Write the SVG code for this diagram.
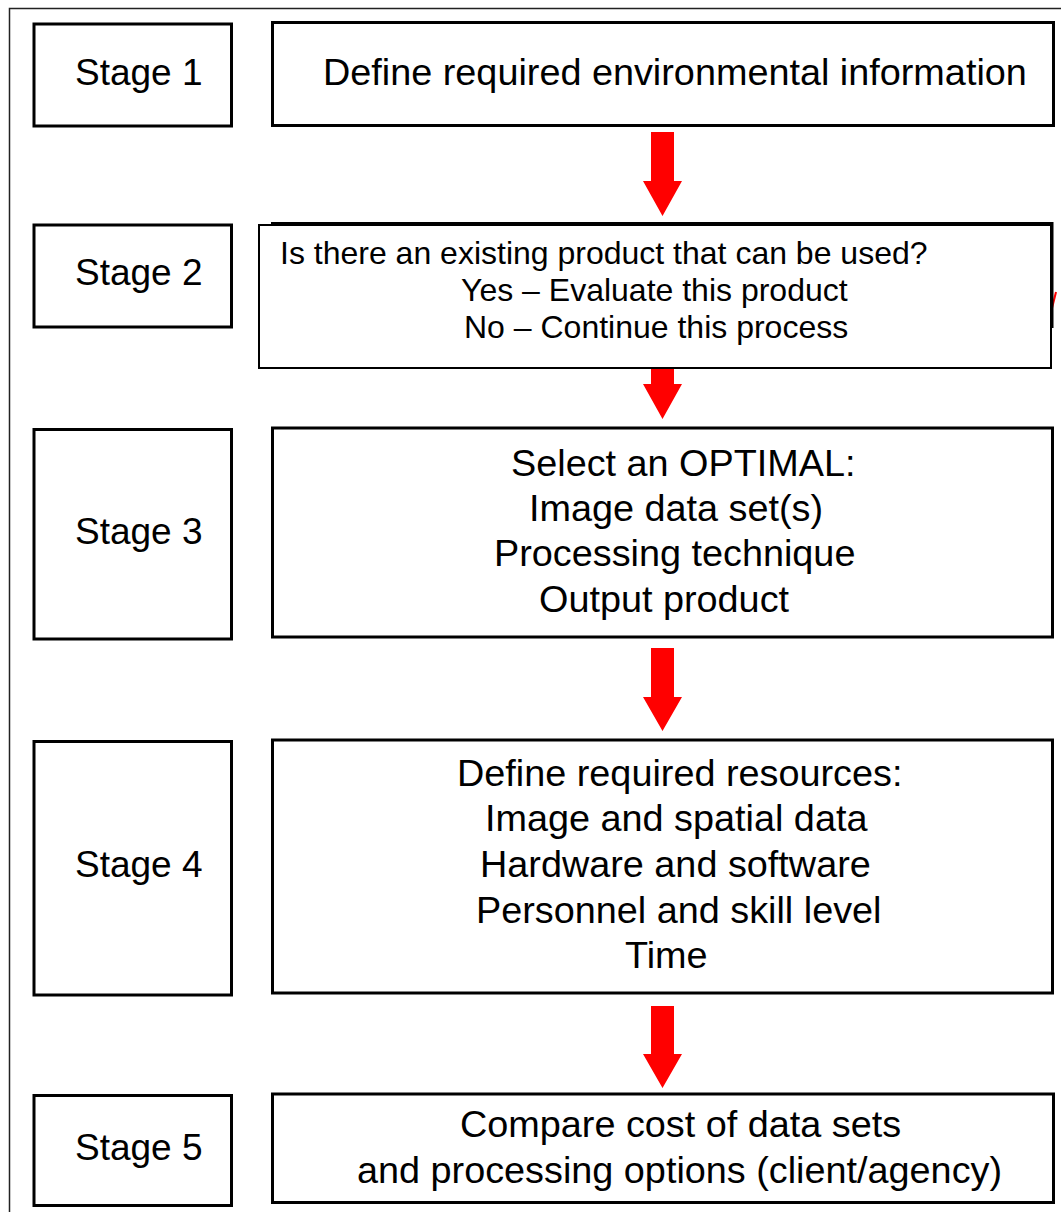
<svg xmlns="http://www.w3.org/2000/svg" width="1061" height="1212" viewBox="0 0 1061 1212">
<style>
.bx{fill:#fff;stroke:#000;stroke-width:3}
.thin{fill:#fff;stroke:#000;stroke-width:2}
.st{font-family:"Liberation Sans",Arial,sans-serif;font-size:37px;fill:#000}
.t{font-family:"Liberation Sans",Arial,sans-serif;font-size:37.8px;fill:#000}
.s{font-family:"Liberation Sans",Arial,sans-serif;font-size:32px;fill:#000}
.arr{fill:#ff0000;stroke:none}
</style>
<rect x="0" y="0" width="1061" height="1212" fill="#fff"/>
<rect id="frame" x="9.5" y="8.5" width="1200" height="1300" fill="none" stroke="#222" stroke-width="1.5"/>
<g id="connectors">
<polygon class="arr" points="651,132 674,132 674,181 682,181 662.5,216 643,181 651,181"/>
<polygon class="arr" points="651,335 674,335 674,384 682,384 662.5,419 643,384 651,384"/>
<polygon class="arr" points="651,648 674,648 674,697 682,697 662.5,731 643,697 651,697"/>
<polygon class="arr" points="651,1006 674,1006 674,1054 682,1054 662.5,1088 643,1054 651,1054"/>
<path d="M1056,292 L1052,308" stroke="#ff0000" stroke-width="2" fill="none"/>
</g>
<g id="stage1">
<rect class="bx" x="34" y="24" width="197.5" height="102"/>
<text class="st" x="75" y="85">Stage 1</text>
</g>
<g id="step1">
<rect class="bx" x="272.5" y="22.5" width="781" height="103"/>
<text class="t" x="323" y="85">Define required environmental information</text>
</g>
<g id="stage2">
<rect class="bx" x="34" y="225" width="197.5" height="102"/>
<text class="st" x="75" y="285">Stage 2</text>
</g>
<g id="step2">
<rect class="bx" x="272.5" y="223.5" width="779.5" height="103"/>
<rect class="thin" x="259" y="225" width="792" height="143"/>
<text class="s" x="280" y="264">Is there an existing product that can be used?</text>
<text class="s" x="461" y="301">Yes – Evaluate this product</text>
<text class="s" x="464" y="338">No – Continue this process</text>
</g>
<g id="stage3">
<rect class="bx" x="34" y="429.5" width="197.5" height="209.5"/>
<text class="st" x="75" y="544">Stage 3</text>
</g>
<g id="step3">
<rect class="bx" x="272.5" y="428" width="780" height="209"/>
<text class="t" x="511" y="476">Select an OPTIMAL:</text>
<text class="t" x="529" y="521">Image data set(s)</text>
<text class="t" x="494" y="566">Processing technique</text>
<text class="t" x="539" y="612">Output product</text>
</g>
<g id="stage4">
<rect class="bx" x="34" y="741.5" width="197.5" height="253.5"/>
<text class="st" x="75" y="877">Stage 4</text>
</g>
<g id="step4">
<rect class="bx" x="272.5" y="740" width="780" height="253"/>
<text class="t" x="457" y="786">Define required resources:</text>
<text class="t" x="485" y="831">Image and spatial data</text>
<text class="t" x="480" y="877">Hardware and software</text>
<text class="t" x="476" y="923">Personnel and skill level</text>
<text class="t" x="625" y="968">Time</text>
</g>
<g id="stage5">
<rect class="bx" x="34" y="1095.5" width="197.5" height="110"/>
<text class="st" x="75" y="1160">Stage 5</text>
</g>
<g id="step5">
<rect class="bx" x="272.5" y="1094" width="781" height="108.5"/>
<text class="t" x="460" y="1137">Compare cost of data sets</text>
<text class="t" x="357" y="1183">and processing options (client/agency)</text>
</g>
</svg>
